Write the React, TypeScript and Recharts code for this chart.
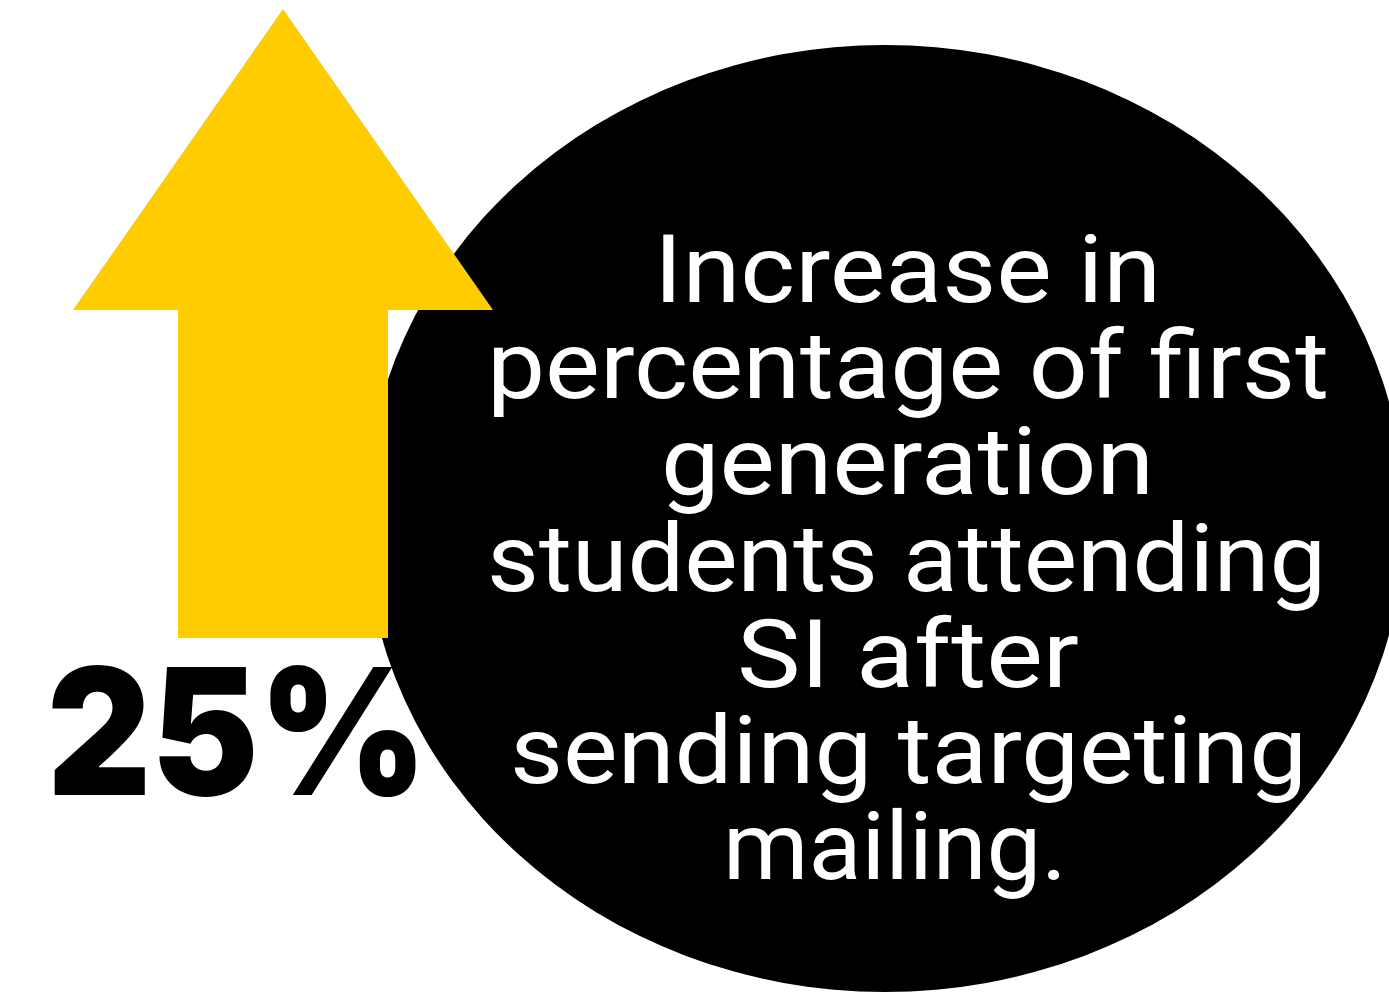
import { BarChart, Bar, XAxis, YAxis, LabelList } from "recharts";

// --- data ---
const categories = ["First generation students attending SI"];
const increasePercent = [25];
const captionLines = [
  "Increase in",
  "percentage of first",
  "generation",
  "students attending",
  "SI after",
  "sending targeting",
  "mailing.",
];

const chartData = categories.map((name, i) => ({ name, value: increasePercent[i] }));

// --- layout ---
const W = 1389;
const H = 993;
const YELLOW = "#FFCC00";
// left edge and width of each caption line, in px
const captionLeft = [654, 487, 661, 487, 737, 510, 723];
const captionWidth = [507, 842, 493, 839, 342, 797, 344];
const captionTop = 302;
const captionStep = 96.2;

// arrow: the bar is the stem, the head is twice as wide
const ArrowShape = (props: any) => {
  const { x, y, width, height, fill } = props;
  const headBase = y + height * 0.4785;
  const pts = [
    [x + width / 2, y],
    [x + width * 1.5, headBase],
    [x + width, headBase],
    [x + width, y + height],
    [x, y + height],
    [x, headBase],
    [x - width / 2, headBase],
  ]
    .map((p) => p.join(","))
    .join(" ");
  return <polygon points={pts} fill={fill} />;
};

const PercentLabel = (props: any) => {
  const { x, y, height, value } = props;
  return (
    <text
      x={x - 131}
      y={y + height + 157}
      fontFamily="Inter, 'Open Sans', sans-serif"
      fontWeight={900}
      fontSize={176}
      fill="#000"
      textLength={380}
      lengthAdjust="spacingAndGlyphs"
    >
      {value}%
    </text>
  );
};

export default function App() {
  return (
    <div style={{ position: "fixed", left: 0, top: 0, width: W, height: H, background: "#fff", overflow: "hidden" }}>
      <svg width={W} height={H} style={{ position: "absolute", left: 0, top: 0 }}>
        <ellipse cx={885} cy={518.5} rx={520} ry={473.5} fill="#000" />
        {captionLines.map((line, i) => (
          <text
            key={line}
            x={captionLeft[i]}
            y={captionTop + i * captionStep}
            fontFamily="Roboto, 'Open Sans', sans-serif"
            fontSize={94}
            fill="#fff"
            textLength={captionWidth[i]}
            lengthAdjust="spacingAndGlyphs"
          >
            {line}
          </text>
        ))}
      </svg>
      <div style={{ position: "absolute", left: 0, top: 0 }}>
        <BarChart width={W} height={H} data={chartData} margin={{ top: 9, right: 823, bottom: 355, left: 0 }}>
          <XAxis dataKey="name" hide />
          <YAxis hide domain={[0, 25]} />
          <Bar dataKey="value" fill={YELLOW} barSize={210} shape={ArrowShape} isAnimationActive={false}>
            <LabelList dataKey="value" content={PercentLabel} />
          </Bar>
        </BarChart>
      </div>
    </div>
  );
}
